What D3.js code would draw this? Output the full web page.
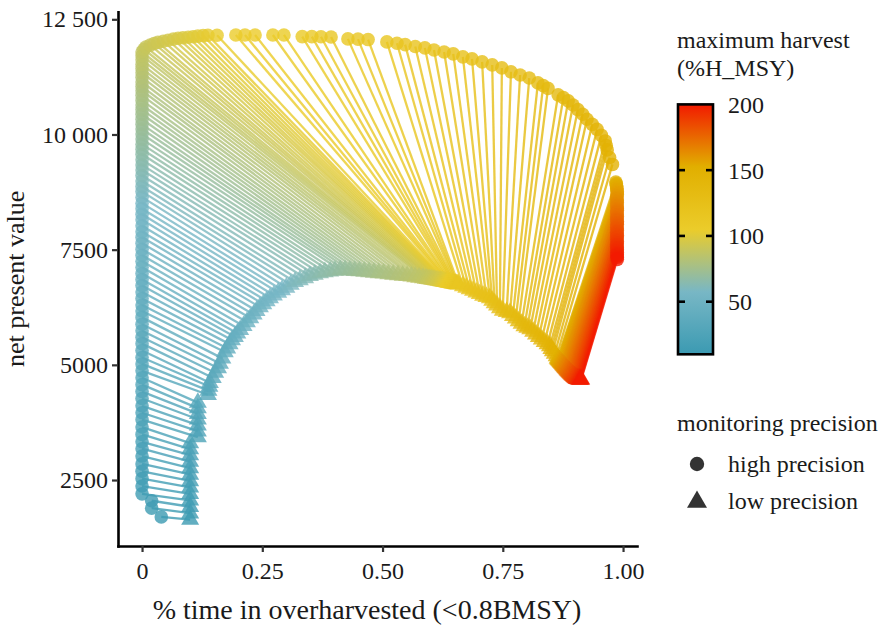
<!DOCTYPE html>
<html>
<head>
<meta charset="utf-8">
<script src="https://cdn.jsdelivr.net/npm/d3@7"></script>
<style>
  body { margin: 0; background: #fff; }
  text { font-family: "Liberation Serif", "Times New Roman", serif; fill: #1a1a1a; }
</style>
</head>
<body>
<svg id="chart"></svg>
<script>
// maximum harvest (%H_MSY), one pair of points per level
const harvest = [
  10, 11, 12, 13, 14, 15, 16, 17, 18, 19, 20, 21, 22, 23, 24, 25, 26, 27, 28, 29,
  30, 31, 32, 33, 34, 35, 36, 37, 38, 39, 40, 41, 42, 43, 44, 45, 46, 47, 48, 49,
  50, 51, 52, 53, 54, 55, 56, 57, 58, 59, 60, 61, 62, 63, 64, 65, 66, 67, 68, 69,
  70, 71, 72, 73, 74, 75, 76, 77, 78, 79, 80, 81, 82, 83, 84, 85, 86, 87, 88, 89,
  90, 91, 92, 93, 94, 95, 96, 97, 98, 99, 100, 101, 102, 103, 104, 105, 106, 107, 108, 109,
  110, 111, 112, 113, 114, 115, 116, 117, 118, 119, 120, 121, 122, 123, 124, 125, 126, 127, 128, 129,
  130, 131, 132, 133, 134, 135, 136, 137, 138, 139, 140, 141, 142, 143, 144, 145, 146, 147, 148, 149,
  150, 151, 152, 153, 154, 155, 156, 157, 158, 159, 160, 161, 162, 163, 164, 165, 166, 167, 168, 169,
  170, 171, 172, 173, 174, 175, 176, 177, 178, 179, 180, 181, 182, 183, 184, 185, 186, 187, 188, 189,
  190, 191, 192, 193, 194, 195, 196, 197, 198, 199, 200
];

// high precision monitoring: % time overharvested, net present value
const highTime = [
  0.040, 0.020, 0.020,
  0, 0, 0, 0, 0, 0, 0, 0, 0, 0,
  0, 0, 0, 0, 0, 0, 0, 0, 0, 0,
  0, 0, 0, 0, 0, 0, 0, 0, 0, 0,
  0, 0, 0, 0, 0, 0, 0, 0, 0, 0,
  0, 0, 0, 0, 0, 0, 0, 0, 0, 0,
  0, 0, 0, 0, 0, 0, 0, 0, 0, 0,
  0, 0, 0, 0, 0, 0, 0, 0, 0, 0,
  0, 0, 0, 0, 0,
  0.000, 0.004, 0.008, 0.017, 0.025, 0.033, 0.044, 0.054, 0.065, 0.075,
  0.085, 0.096, 0.106, 0.116, 0.127, 0.137, 0.156, 0.195, 0.214, 0.235,
  0.272, 0.295, 0.333, 0.353, 0.372, 0.393, 0.428, 0.449, 0.470,
  0.509, 0.530, 0.547, 0.568, 0.588, 0.607, 0.628, 0.647, 0.667, 0.686,
  0.707, 0.728, 0.748, 0.767, 0.786, 0.805, 0.823, 0.834, 0.844, 0.865,
  0.876, 0.886, 0.896, 0.906, 0.916, 0.925, 0.936, 0.946, 0.955, 0.963,
  0.965, 0.967, 0.972, 0.978,
  0.985, 0.986, 0.986, 0.987, 0.987, 0.987, 0.988, 0.988, 0.988, 0.987,
  0.987, 0.987, 0.988, 0.988, 0.987, 0.987, 0.988, 0.988, 0.988, 0.987,
  0.987, 0.988, 0.988, 0.987, 0.987, 0.988, 0.988, 0.988, 0.987, 0.987,
  0.988, 0.988, 0.987, 0.987, 0.988, 0.988, 0.987, 0.987, 0.988, 0.988,
  0.987, 0.987, 0.988, 0.988, 0.987, 0.988, 0.988, 0.987, 0.988, 0.988
];
const highNpv = [
  1700, 1890, 2050,
  2200, 2370, 2530, 2690, 2850, 3020, 3180, 3330, 3490, 3650,
  3810, 3960, 4110, 4270, 4420, 4570, 4720, 4870, 5020, 5160,
  5310, 5460, 5600, 5740, 5880, 6030, 6170, 6300, 6440, 6580,
  6720, 6850, 6980, 7120, 7250, 7380, 7510, 7640, 7770, 7890,
  8020, 8150, 8270, 8390, 8510, 8640, 8760, 8870, 8990, 9110,
  9230, 9340, 9450, 9570, 9680, 9790, 9900, 10010, 10120, 10220,
  10330, 10440, 10540, 10640, 10740, 10850, 10950, 11040, 11140, 11240,
  11340, 11430, 11520, 11620, 11710,
  11790, 11850, 11900, 11940, 11975, 12000, 12025, 12045, 12070, 12090,
  12100, 12110, 12120, 12135, 12145, 12155, 12155, 12160, 12160, 12160,
  12160, 12160, 12125, 12125, 12120, 12115, 12075, 12070, 12060,
  12010, 11980, 11950, 11910, 11880, 11835, 11790, 11750, 11685, 11640,
  11575, 11510, 11445, 11360, 11290, 11225, 11120, 11060, 11000, 10860,
  10800, 10730, 10640, 10540, 10440, 10330, 10220, 10110, 9980, 9860,
  9760, 9665, 9500, 9350,
  8970, 8935, 8900, 8866, 8832, 8798, 8764, 8730, 8696, 8662,
  8628, 8594, 8560, 8526, 8492, 8458, 8424, 8390, 8356, 8322,
  8288, 8254, 8220, 8186, 8152, 8118, 8084, 8050, 8016, 7982,
  7948, 7914, 7880, 7846, 7812, 7778, 7744, 7710, 7676, 7642,
  7608, 7574, 7540, 7506, 7472, 7438, 7404, 7370, 7336, 7290
];

// low precision monitoring: % time overharvested, net present value
const lowTime = [
  0.100, 0.100, 0.100, 0.100, 0.100, 0.100, 0.100, 0.100, 0.100, 0.100,
  0.100, 0.100, 0.100,
  0.116, 0.116, 0.116, 0.116, 0.116, 0.116, 0.116,
  0.137, 0.138, 0.140, 0.141, 0.147, 0.152, 0.158, 0.162, 0.167, 0.172,
  0.177, 0.182, 0.187, 0.193, 0.198, 0.204, 0.211, 0.218, 0.225, 0.232,
  0.238, 0.245, 0.252, 0.259, 0.266, 0.274, 0.283, 0.291, 0.300, 0.309,
  0.318, 0.328, 0.339, 0.349, 0.359, 0.370, 0.380, 0.391, 0.401, 0.412,
  0.422, 0.432, 0.442, 0.452, 0.462, 0.472, 0.482, 0.492, 0.502, 0.512,
  0.522, 0.532, 0.542, 0.551, 0.560, 0.568, 0.576, 0.584,
  0.590, 0.594, 0.598, 0.602, 0.605, 0.608, 0.611, 0.614, 0.617, 0.620,
  0.622, 0.624, 0.626, 0.628, 0.630, 0.632, 0.634, 0.636, 0.638, 0.640,
  0.642, 0.644, 0.646, 0.648, 0.650, 0.652, 0.654, 0.656, 0.658,
  0.667, 0.674, 0.681, 0.688, 0.695, 0.702, 0.709, 0.716, 0.723, 0.728,
  0.733, 0.738, 0.744, 0.750, 0.758, 0.765, 0.771, 0.777, 0.783, 0.789,
  0.795, 0.801, 0.807, 0.813, 0.819, 0.825, 0.831, 0.837, 0.843, 0.848,
  0.851, 0.854, 0.858, 0.862,
  0.864, 0.865, 0.866, 0.867, 0.868, 0.869, 0.870, 0.871, 0.872, 0.873,
  0.874, 0.875, 0.876, 0.877, 0.878, 0.879, 0.880, 0.881, 0.882, 0.883,
  0.884, 0.885, 0.886, 0.887, 0.888, 0.889, 0.890, 0.891, 0.892, 0.893,
  0.894, 0.895, 0.896, 0.897, 0.898, 0.899, 0.900, 0.901, 0.902, 0.903,
  0.904, 0.905, 0.906, 0.907, 0.908, 0.909, 0.910, 0.911, 0.912, 0.913
];
const lowNpv = [
  1640, 1780, 1920, 2060, 2200, 2340, 2480, 2620, 2760, 2900,
  3040, 3170, 3300,
  3430, 3560, 3690, 3820, 3940, 4060, 4180,
  4350, 4440, 4530, 4610, 4720, 4830, 4930, 5030, 5140, 5280,
  5360, 5450, 5540, 5610, 5685, 5760, 5845, 5930, 6015, 6095,
  6175, 6255, 6320, 6385, 6450, 6510, 6570, 6625, 6680, 6740,
  6800, 6840, 6885, 6930, 6960, 6990, 7015, 7030, 7045, 7060,
  7055, 7050, 7040, 7035, 7025, 7015, 7005, 6995, 6985, 6970,
  6960, 6950, 6940, 6930, 6920, 6905, 6895, 6885,
  6875, 6868, 6862, 6856, 6850, 6845, 6840, 6835, 6830, 6825,
  6820, 6816, 6812, 6808, 6804, 6800, 6796, 6792, 6788, 6784,
  6780, 6776, 6772, 6768, 6764, 6760, 6756, 6752, 6748,
  6711, 6680, 6645, 6610, 6575, 6540, 6505, 6475, 6450, 6395,
  6340, 6290, 6235, 6180, 6150, 6125, 6065, 6010, 5950, 5895,
  5840, 5810, 5778, 5720, 5665, 5610, 5555, 5500, 5450, 5409,
  5350, 5300, 5245, 5192,
  5140, 5128, 5116, 5104, 5092, 5080, 5068, 5056, 5044, 5032,
  5020, 5008, 4996, 4984, 4972, 4960, 4948, 4936, 4924, 4912,
  4900, 4889, 4878, 4867, 4856, 4845, 4834, 4823, 4812, 4801,
  4791, 4781, 4771, 4761, 4751, 4742, 4733, 4725, 4717, 4710,
  4704, 4699, 4695, 4692, 4690, 4688, 4687, 4686, 4685, 4685
];

const xTicks = [0, 0.25, 0.5, 0.75, 1];
const xTickLabels = ["0", "0.25", "0.50", "0.75", "1.00"];
const yTicks = [2500, 5000, 7500, 10000, 12500];
const yTickLabels = ["2500", "5000", "7500", "10 000", "12 500"];
const barTicks = [50, 100, 150, 200];
const palette = ["#3B9AB2", "#78B7C5", "#EBCC2A", "#E1AF00", "#F21A00"];

const width = 878, height = 629;
const panel = { left: 118, right: 637, top: 11.7, bottom: 546 };

const svg = d3.select("#chart")
  .attr("width", width)
  .attr("height", height);

svg.append("rect").attr("width", width).attr("height", height).attr("fill", "#fff");

// scales, with ggplot-like 5% padding around the data
const x = d3.scaleLinear().domain([-0.05, 1.029]).range([panel.left, panel.right]);
const y = d3.scaleLinear().domain([1068, 12665]).range([panel.bottom, panel.top]);

const [hMin, hMax] = d3.extent(harvest);
const stops = palette.map((c, i) => hMin + i * (hMax - hMin) / (palette.length - 1));
const colour = d3.scaleLinear().domain(stops).range(palette);

const pairs = harvest.map((h, i) => ({
  h: h,
  hx: highTime[i], hy: highNpv[i],
  lx: lowTime[i], ly: lowNpv[i]
}));

// segments joining the two monitoring precisions
svg.append("g")
  .selectAll("line")
  .data(pairs)
  .join("line")
  .attr("x1", d => x(d.hx))
  .attr("y1", d => y(d.hy))
  .attr("x2", d => x(d.lx))
  .attr("y2", d => y(d.ly))
  .attr("stroke", d => colour(d.h))
  .attr("stroke-width", 2.3)
  .attr("stroke-opacity", 0.8);

// high precision points
svg.append("g")
  .selectAll("circle")
  .data(pairs)
  .join("circle")
  .attr("cx", d => x(d.hx))
  .attr("cy", d => y(d.hy))
  .attr("r", 6.8)
  .attr("fill", d => colour(d.h))
  .attr("fill-opacity", 0.8);

// low precision points
const tri = d3.symbol().type(d3.symbolTriangle).size(Math.sqrt(3) / 4 * 18 * 18);
svg.append("g")
  .selectAll("path")
  .data(pairs)
  .join("path")
  .attr("d", tri)
  .attr("transform", d => `translate(${x(d.lx)},${y(d.ly)})`)
  .attr("fill", d => colour(d.h))
  .attr("fill-opacity", 0.8);

// axes
const xAxis = svg.append("g")
  .attr("transform", `translate(0,${panel.bottom})`)
  .call(d3.axisBottom(x).tickValues(xTicks)
    .tickFormat((d, i) => xTickLabels[i]).tickSize(6).tickSizeOuter(0).tickPadding(10));
const yAxis = svg.append("g")
  .attr("transform", `translate(${panel.left},0)`)
  .call(d3.axisLeft(y).tickValues(yTicks)
    .tickFormat((d, i) => yTickLabels[i]).tickSize(6).tickSizeOuter(0).tickPadding(4));

[xAxis, yAxis].forEach(ax => {
  ax.select(".domain").attr("stroke", "#000").attr("stroke-width", 2.6).attr("stroke-linecap", "square");
  ax.selectAll(".tick line").attr("stroke", "#333").attr("stroke-width", 2.2);
  ax.selectAll(".tick text").attr("font-size", 24).attr("fill", "#1a1a1a")
    .attr("font-family", "'Liberation Serif', serif");
});

// axis titles
svg.append("text")
  .attr("x", 367)
  .attr("y", 619)
  .attr("text-anchor", "middle")
  .attr("font-size", 28)
  .text("% time in overharvested (<0.8BMSY)");

svg.append("text")
  .attr("transform", `translate(24,${(panel.top + panel.bottom) / 2}) rotate(-90)`)
  .attr("text-anchor", "middle")
  .attr("font-size", 26)
  .text("net present value");

// colour bar legend
const legend = svg.append("g");
legend.append("text").attr("x", 677).attr("y", 48).attr("font-size", 24).text("maximum harvest");
legend.append("text").attr("x", 677).attr("y", 76).attr("font-size", 24).text("(%H_MSY)");

const bar = { x: 678, w: 35, top: 104.4, bottom: 354.3 };
const barScale = d3.scaleLinear().domain([hMin, hMax]).range([bar.bottom, bar.top]);

const grad = svg.append("defs").append("linearGradient")
  .attr("id", "harvestGrad")
  .attr("x1", 0).attr("y1", 1).attr("x2", 0).attr("y2", 0);
grad.selectAll("stop")
  .data(stops)
  .join("stop")
  .attr("offset", d => (d - hMin) / (hMax - hMin))
  .attr("stop-color", d => colour(d));

legend.append("rect")
  .attr("x", bar.x).attr("y", bar.top)
  .attr("width", bar.w).attr("height", bar.bottom - bar.top)
  .attr("fill", "url(#harvestGrad)")
  .attr("stroke", "#000")
  .attr("stroke-width", 2.6);

barTicks.filter(t => t < hMax).forEach(t => {
  legend.append("line")
    .attr("x1", bar.x).attr("x2", bar.x + 7)
    .attr("y1", barScale(t)).attr("y2", barScale(t))
    .attr("stroke", "#000").attr("stroke-width", 2.6);
  legend.append("line")
    .attr("x1", bar.x + bar.w - 7).attr("x2", bar.x + bar.w)
    .attr("y1", barScale(t)).attr("y2", barScale(t))
    .attr("stroke", "#000").attr("stroke-width", 2.6);
});

legend.selectAll("text.bar-label")
  .data(barTicks)
  .join("text")
  .attr("class", "bar-label")
  .attr("x", 728)
  .attr("y", d => barScale(d))
  .attr("dy", "0.35em")
  .attr("font-size", 24)
  .text(d => d);

// shape legend
legend.append("text").attr("x", 677).attr("y", 431).attr("font-size", 24).text("monitoring precision");
legend.append("circle").attr("cx", 697).attr("cy", 464).attr("r", 7.2).attr("fill", "#333");
legend.append("path")
  .attr("d", d3.symbol().type(d3.symbolTriangle).size(Math.sqrt(3) / 4 * 20 * 20))
  .attr("transform", "translate(697,502)")
  .attr("fill", "#333");
legend.append("text").attr("x", 728).attr("y", 464).attr("dy", "0.35em").attr("font-size", 24).text("high precision");
legend.append("text").attr("x", 728).attr("y", 501).attr("dy", "0.35em").attr("font-size", 24).text("low precision");
</script>
</body>
</html>
